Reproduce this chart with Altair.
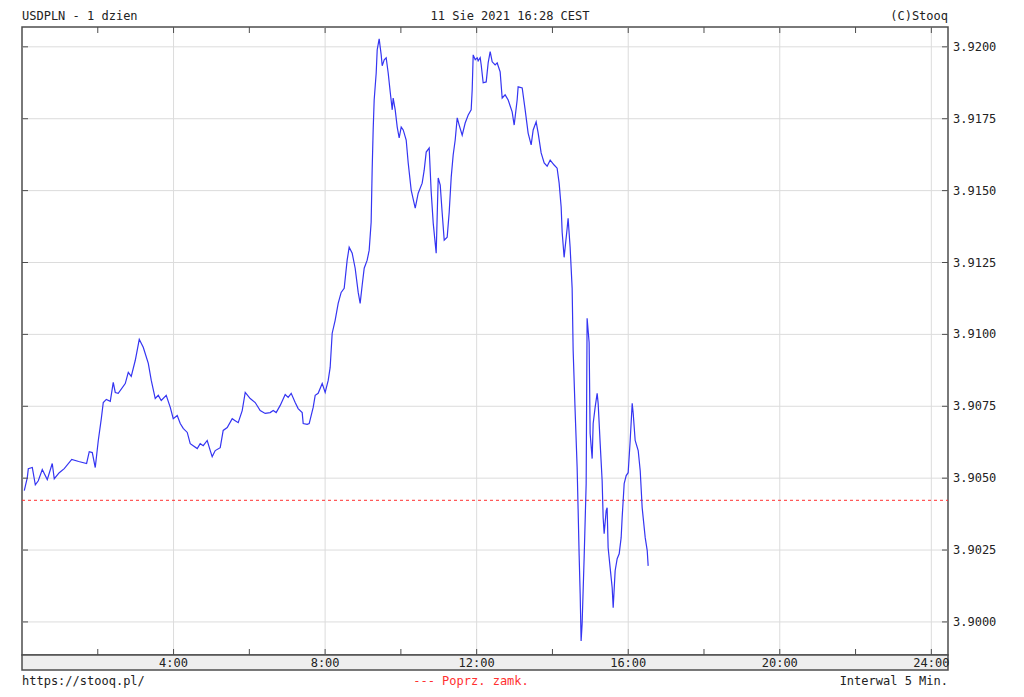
import altair as alt
import pandas as pd

# ---- data (USDPLN, 5-minute intraday, 11 Aug 2021) ----
minutes = [
    3.6, 8.4, 10.0, 16.3, 21.1, 25.8, 32.1, 40.0, 47.9, 51.1,
    59.0, 66.9, 78.8, 89.8, 102.3, 106.5, 111.3, 116.0, 120.8, 125.6,
    128.7, 133.5, 139.8, 144.5, 147.7, 152.4, 163.5, 168.3, 173.0, 179.4,
    185.7, 192.0, 200.0, 204.7, 211.0, 215.8, 220.5, 228.4, 234.8, 239.5,
    245.8, 250.6, 255.3, 261.7, 266.4, 271.1, 277.5, 282.2, 287.0, 293.3,
    298.1, 301.2, 306.0, 313.9, 318.6, 325.0, 332.9, 337.6, 342.4, 348.7,
    353.5, 361.4, 369.3, 377.2, 385.1, 393.0, 397.8, 402.5, 408.9, 416.8,
    421.5, 426.3, 432.6, 437.3, 443.7, 445.3, 451.6, 454.8, 461.1, 464.3,
    469.0, 475.4, 480.1, 484.9, 488.0, 491.2, 495.9, 500.7, 505.4, 510.2,
    514.9, 518.1, 522.9, 527.6, 532.4, 535.5, 538.7, 541.9, 546.6, 549.8,
    552.9, 554.5, 556.1, 557.7, 560.9, 562.5, 565.6, 568.8, 570.4, 573.6,
    576.7, 579.9, 583.1, 586.3, 587.8, 591.0, 594.2, 597.3, 600.5, 603.7,
    608.4, 611.6, 616.3, 622.7, 627.4, 633.7, 636.9, 640.1, 644.8, 648.0,
    651.2, 655.9, 659.1, 662.3, 665.4, 668.6, 673.3, 676.5, 679.7, 682.8,
    686.0, 689.2, 692.3, 697.1, 701.8, 706.6, 711.3, 712.9, 714.5, 717.7,
    720.8, 722.4, 725.6, 727.2, 730.3, 735.1, 738.2, 741.4, 744.6, 749.3,
    752.5, 757.2, 760.4, 765.1, 769.9, 776.2, 779.4, 784.1, 785.7, 792.1,
    796.8, 801.5, 806.3, 809.5, 814.2, 817.4, 822.1, 826.9, 831.6, 836.4,
    842.7, 847.4, 850.6, 853.8, 855.4, 858.5, 863.3, 864.8, 868.0, 871.2,
    872.8, 875.9, 879.1, 880.7, 882.3, 883.9, 885.4, 887.0, 890.2, 893.4,
    894.9, 898.1, 899.7, 902.9, 904.5, 907.6, 910.8, 912.4, 915.6, 918.7,
    920.3, 921.9, 925.1, 926.6, 928.2, 931.4, 934.6, 936.2, 939.3, 942.5,
    945.7, 948.8, 950.4, 953.6, 956.8, 959.9, 963.1, 966.3, 967.9, 971.0,
    975.8, 979.0, 982.1, 986.9, 990.1, 991.6,
]

prices = [
    3.90457, 3.90502, 3.90533, 3.90537, 3.90477, 3.90491, 3.90530, 3.90495, 3.90551, 3.90498,
    3.90519, 3.90533, 3.90565, 3.90558, 3.90551, 3.90592, 3.90589, 3.90537, 3.90631, 3.90707,
    3.90763, 3.90774, 3.90767, 3.90833, 3.90798, 3.90795, 3.90829, 3.90868, 3.90854, 3.90910,
    3.90983, 3.90955, 3.90899, 3.90840, 3.90777, 3.90788, 3.90770, 3.90788, 3.90746, 3.90707,
    3.90718, 3.90690, 3.90673, 3.90659, 3.90620, 3.90613, 3.90603, 3.90620, 3.90613, 3.90631,
    3.90596, 3.90575, 3.90596, 3.90606, 3.90666, 3.90676, 3.90707, 3.90700, 3.90693, 3.90735,
    3.90798, 3.90777, 3.90763, 3.90735, 3.90725, 3.90728, 3.90735, 3.90728, 3.90753, 3.90791,
    3.90781, 3.90795, 3.90763, 3.90742, 3.90728, 3.90690, 3.90687, 3.90690, 3.90746, 3.90788,
    3.90795, 3.90829, 3.90798, 3.90840, 3.90885, 3.91004, 3.91049, 3.91108, 3.91146, 3.91160,
    3.91258, 3.91303, 3.91282, 3.91230, 3.91146, 3.91108, 3.91171, 3.91230, 3.91258, 3.91293,
    3.91390, 3.91571, 3.91711, 3.91815, 3.91909, 3.91990, 3.92028, 3.91972, 3.91934, 3.91955,
    3.91962, 3.91909, 3.91843, 3.91781, 3.91822, 3.91781, 3.91721, 3.91683, 3.91721, 3.91711,
    3.91676, 3.91596, 3.91502, 3.91439, 3.91491, 3.91526, 3.91571, 3.91634, 3.91648, 3.91495,
    3.91387, 3.91282, 3.91544, 3.91519, 3.91422, 3.91328, 3.91338, 3.91425, 3.91547, 3.91624,
    3.91676, 3.91753, 3.91728, 3.91693, 3.91735, 3.91763, 3.91781, 3.91850, 3.91972, 3.91955,
    3.91962, 3.91951, 3.91962, 3.91937, 3.91875, 3.91878, 3.91944, 3.91983, 3.91948, 3.91937,
    3.91944, 3.91913, 3.91822, 3.91833, 3.91815, 3.91774, 3.91728, 3.91815, 3.91861, 3.91857,
    3.91781, 3.91700, 3.91659, 3.91711, 3.91739, 3.91700, 3.91631, 3.91596, 3.91585, 3.91606,
    3.91589, 3.91578, 3.91526, 3.91443, 3.91355, 3.91268, 3.91369, 3.91404, 3.91303, 3.91160,
    3.90944, 3.90735, 3.90537, 3.90387, 3.90230, 3.90098, 3.89934, 3.89993, 3.90223, 3.90481,
    3.91056, 3.90972, 3.90655, 3.90568, 3.90690, 3.90746, 3.90795, 3.90760, 3.90620, 3.90491,
    3.90363, 3.90307, 3.90387, 3.90397, 3.90258, 3.90188, 3.90119, 3.90049, 3.90178, 3.90220,
    3.90237, 3.90293, 3.90363, 3.90481, 3.90509, 3.90519, 3.90631, 3.90760, 3.90725, 3.90631,
    3.90596, 3.90526, 3.90397, 3.90293, 3.90248, 3.90195,
]

prev_close = [3.90423]

grid_hours = [4, 8, 12, 16, 20, 24]
hour_labels = ["4:00", "8:00", "12:00", "16:00", "20:00", "24:00"]
tick_hours = [2, 4, 6, 8, 10, 12, 14, 16, 18, 20, 22, 24]
price_ticks = [3.9000, 3.9025, 3.9050, 3.9075, 3.9100, 3.9125, 3.9150, 3.9175, 3.9200]

title_left = "USDPLN - 1 dzien"
title_center = "11 Sie 2021 16:28 CEST"
title_right = "(C)Stooq"
foot_left = "https://stooq.pl/"
foot_center = "--- Poprz. zamk."
foot_right = "Interwal 5 Min."

# ---- layout / style ----
W, H = 926, 628
FONT = "DejaVu Sans Mono"
FS = 12
FRAME = "#4d4d4d"
GRID = "#dcdcdc"
TXT = "#222222"

x_scale = alt.Scale(domain=[0, 24.44], nice=False, zero=False)
y_scale = alt.Scale(domain=[3.89885, 3.92069], nice=False, zero=False)

df = pd.DataFrame({"minute": minutes, "price": prices})
df["hour"] = df["minute"] / 60.0

one = pd.DataFrame({"k": [0]})
gdf = pd.DataFrame({"hour": grid_hours, "label": hour_labels})
tdf = pd.DataFrame({"hour": tick_hours})
pdf = pd.DataFrame({"price": price_ticks})

X = lambda: alt.X("hour:Q", scale=x_scale, axis=None)
Y = lambda: alt.Y("price:Q", scale=y_scale, axis=None)

grid_v = alt.Chart(gdf).mark_rule(color=GRID, strokeWidth=1).encode(
    x=X(), y=alt.value(0), y2=alt.value(H))
grid_h = alt.Chart(pdf).mark_rule(color=GRID, strokeWidth=1).encode(
    y=Y(), x=alt.value(0), x2=alt.value(W))

prev = alt.Chart(pd.DataFrame({"price": prev_close})).mark_rule(
    color="#ff3030", strokeWidth=1, strokeDash=[3, 3]
).encode(y=Y(), x=alt.value(0), x2=alt.value(W))

line = alt.Chart(df).mark_line(color="#3535f2", strokeWidth=1.2).encode(x=X(), y=Y())

band = alt.Chart(one).mark_rect(fill="#eeeeee", stroke=FRAME, strokeWidth=1.5).encode(
    x=alt.value(0), x2=alt.value(W), y=alt.value(H), y2=alt.value(H + 15)
)

xlab = alt.Chart(gdf).mark_text(
    font=FONT, fontSize=FS, color=TXT, align="center", baseline="middle"
).encode(x=X(), y=alt.value(H + 8), text="label:N")

ylab = alt.Chart(pdf).mark_text(
    font=FONT, fontSize=FS, color=TXT, align="left", baseline="middle"
).encode(y=Y(), x=alt.value(W + 5), text=alt.Text("price:Q", format=".4f"))

ticks_top = alt.Chart(tdf).mark_rule(color=FRAME, strokeWidth=1).encode(
    x=X(), y=alt.value(0), y2=alt.value(6))
ticks_bot = alt.Chart(tdf).mark_rule(color=FRAME, strokeWidth=1).encode(
    x=X(), y=alt.value(H - 6), y2=alt.value(H))
ticks_left = alt.Chart(pdf).mark_rule(color=FRAME, strokeWidth=1).encode(
    y=Y(), x=alt.value(0), x2=alt.value(6))
ticks_right = alt.Chart(pdf).mark_rule(color=FRAME, strokeWidth=1).encode(
    y=Y(), x=alt.value(W - 6), x2=alt.value(W))


def label(text, x, y, align, color=TXT):
    return alt.Chart(one).mark_text(
        text=text, font=FONT, fontSize=FS, color=color, align=align, baseline="middle"
    ).encode(x=alt.value(x), y=alt.value(y))


texts = [
    label(title_left, 0, -11, "left"),
    label(title_center, 488, -11, "center"),
    label(title_right, W, -11, "right"),
    label(foot_left, 0, H + 26, "left"),
    label(foot_center, 449, H + 26, "center", color="#ff3030"),
    label(foot_right, W, H + 26, "right"),
]

chart = alt.layer(
    grid_v, grid_h, prev, line, band, xlab, ylab,
    ticks_top, ticks_bot, ticks_left, ticks_right, *texts
).properties(
    width=W, height=H,
    autosize="none",
    padding={"left": 14, "top": 19, "right": 60, "bottom": 40},
    background="white",
).configure_view(stroke=FRAME, strokeWidth=1.5)

chart.save("out.html", embed_options={"renderer": "svg", "actions": False})
